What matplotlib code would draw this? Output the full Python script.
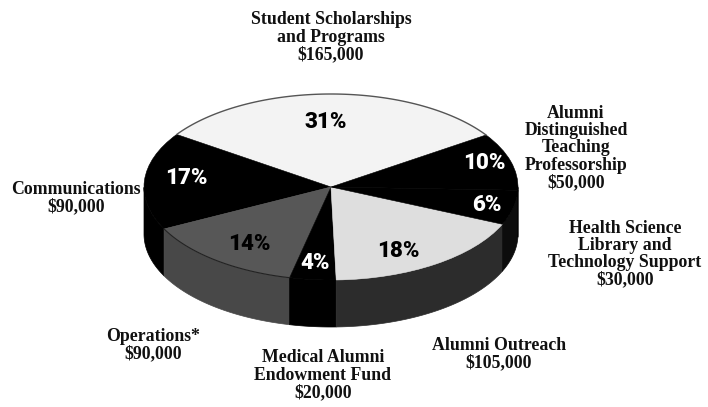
#!/usr/bin/env python
import numpy as np
import matplotlib
matplotlib.use('Agg')
import matplotlib.pyplot as plt

# counter-clockwise from the start angle
names = ['Student Scholarships\nand Programs\n$165,000',
         'Communications\n$90,000',
         'Operations*\n$90,000',
         'Medical Alumni\nEndowment Fund\n$20,000',
         'Alumni Outreach\n$105,000',
         'Health Science\nLibrary and\nTechnology Support\n$30,000',
         'Alumni\nDistinguished\nTeaching\nProfessorship\n$50,000']
percents = [31, 17, 14, 4, 18, 6, 10]
top_colors = ['#f3f3f3', '#000000', '#575757', '#000000', '#dedede', '#000000', '#000000']
side_colors = ['#e0e0e0', '#000000', '#484848', '#000000', '#2c2c2c', '#0c0c0c', '#000000']
pct_colors = ['black', 'white', 'black', 'white', 'black', 'white', 'white']

W, H = 708, 407
CX, CY = 331, 187
RX, RY = 187, 93
DEPTH = 47 / RY
START = 34


def px(x, y):
    return x / W, 1 - y / H


def draw_sides(ax):
    a = START
    for p, c in zip(percents, side_colors):
        b = a + p * 3.6
        # only the part of the rim facing the viewer has a wall
        t = np.radians(np.linspace(a, b, 100))
        t = t[np.sin(t) <= 0]
        if len(t) > 1:
            xs = np.concatenate([np.cos(t), np.cos(t[::-1])])
            ys = np.concatenate([np.sin(t), np.sin(t[::-1]) - DEPTH])
            ax.fill(xs, ys, color=c, lw=0.5, zorder=1)
        a = b


def draw_rim(ax, index, color, lw):
    a = START + sum(percents[:index]) * 3.6
    b = a + percents[index] * 3.6
    t = np.radians(np.linspace(a, b, 100))
    ax.plot(np.cos(t), np.sin(t), color=color, lw=lw, zorder=5)


def plot_budget_pie():
    fig = plt.figure(figsize=(W / 100, H / 100), dpi=100)
    ax = fig.add_axes([0, 0, 1, 1])
    wedges, _ = ax.pie(percents, colors=top_colors, startangle=START, radius=1,
                       wedgeprops={'zorder': 3})
    # no light seams between the black slices
    for w, c in zip(wedges, top_colors):
        w.set_edgecolor(c)
        w.set_linewidth(0.4)
    ax.set_aspect('auto')
    ax.set_xlim(-CX / RX, (W - CX) / RX)
    ax.set_ylim(-(H - CY) / RY, CY / RY)
    ax.axis('off')

    draw_sides(ax)
    draw_rim(ax, 0, '#555555', 1.0)
    draw_rim(ax, 2, '#222222', 0.8)

    # name labels
    spots = [(331, 37), (76, 198), (153, 345), (323, 375),
             (499, 354), (625, 254), (576, 148)]
    for name, (x, y) in zip(names, spots):
        fx, fy = px(x, y)
        fig.text(fx, fy, name, ha='center', va='center', multialignment='center',
                 family='Liberation Serif', weight='bold', fontsize=12.8,
                 linespacing=1.02, color='#111111')

    # percent labels
    pct_spots = [(326, 122), (186, 178), (249, 244), (315, 263),
                 (398, 251), (487, 205), (484, 163)]
    for p, c, (x, y) in zip(percents, pct_colors, pct_spots):
        fx, fy = px(x, y)
        fig.text(fx, fy, '%d%%' % p, ha='center', va='center', color=c,
                 family='Roboto', weight='black', fontsize=16)

    plt.savefig('out.png', dpi=100)


if __name__ == "__main__":
    plot_budget_pie()
